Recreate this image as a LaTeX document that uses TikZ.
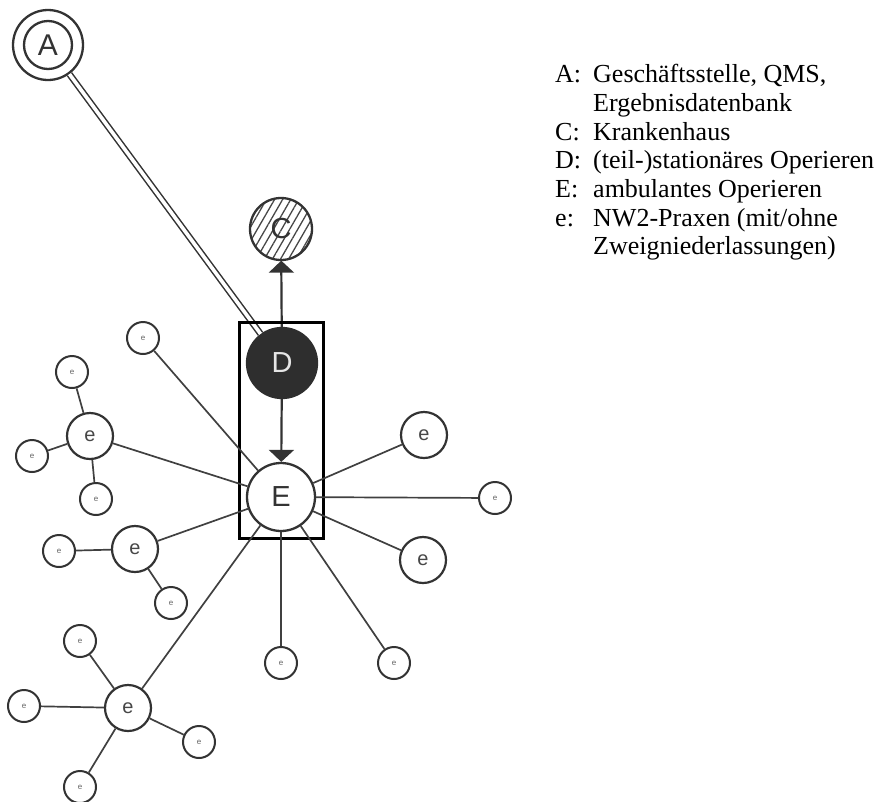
\documentclass[tikz,border=0pt]{standalone}
\usepackage{fontspec}
\setmainfont{Liberation Serif}
\newfontfamily\diagfont{Liberation Sans}
\usetikzlibrary{arrows.meta,patterns.meta}

\begin{document}
\begin{tikzpicture}[x=1pt,y=-1pt,
  link/.style={draw=black!75, line width=1.7pt},
  ring/.style={circle, draw=black!80, inner sep=0pt},
  bige/.style={ring, line width=2.2pt, minimum size=46pt,
    font=\diagfont\fontsize{20}{20}\selectfont, text=black!72},
  smalle/.style={ring, line width=2pt, minimum size=32pt,
    font=\diagfont\fontsize{8}{8}\selectfont, text=black!62},
  capnode/.style={ring, line width=2.3pt,
    font=\diagfont\fontsize{29}{29}\selectfont, text=black!80},
  flow/.style={draw=black!80, line width=2.2pt,
    -{Triangle[width=25pt,length=12pt]}},
  legend/.style={anchor=base west, inner sep=0pt,
    font=\fontsize{26}{28}\selectfont},
]
\useasboundingbox (0,0) rectangle (883,801);

% main nodes
\node[capnode, minimum size=70pt] (A) at (48,45) {};
\node[ring, line width=2.3pt, minimum size=48pt,
  font=\diagfont\fontsize{30}{30}\selectfont, text=black!80] (Ain) at (A) {A};
\node[capnode, minimum size=62pt,
  pattern={Lines[angle=60,distance=7pt,line width=1.3pt]},
  pattern color=black!72] (C) at (281,229) {C};
\node[capnode, minimum size=70pt, fill=black!82, draw=black!82, text=black!10] (D) at (282,363) {D};
\node[capnode, minimum size=68pt, fill=white] (E) at (281,497) {E};

% connection A -- D (double line)
\draw[draw=black!80, line width=1.5pt, double=white, double distance=3.6pt] (A) -- (D);

% flows out of D
\draw[flow] (D) -- (C);
\draw[flow] (D) -- (E);

% frame around D and E
\node[draw=black, line width=3pt, inner sep=0pt, minimum width=84pt, minimum height=216pt] (frame) at (281,430) {};

% single satellites of E
\node[smalle] (e1) at (143,338) {e};
\node[bige]   (e2) at (424,435) {e};
\node[smalle] (e3) at (495,498) {e};
\node[bige]   (e4) at (423,560) {e};
\node[smalle] (e5) at (281,663) {e};
\node[smalle] (e6) at (394,663) {e};

% cluster left, upper
\node[bige]   (g1) at (90,436) {e};
\node[smalle] (g1a) at (72,372) {e};
\node[smalle] (g1b) at (32,456) {e};
\node[smalle] (g1c) at (96,499) {e};

% cluster left, middle
\node[bige]   (g2) at (135,549) {e};
\node[smalle] (g2a) at (59,551) {e};
\node[smalle] (g2b) at (171,603) {e};

% cluster left, lower
\node[bige]   (g3) at (128,708) {e};
\node[smalle] (g3a) at (80,641) {e};
\node[smalle] (g3b) at (24,706) {e};
\node[smalle] (g3c) at (199,742) {e};
\node[smalle] (g3d) at (80,787) {e};

% links
\foreach \t in {e1,e2,e3,e4,e5,e6,g1,g2,g3}
  \draw[link] (E) -- (\t);
\foreach \t in {g1a,g1b,g1c}
  \draw[link] (g1) -- (\t);
\foreach \t in {g2a,g2b}
  \draw[link] (g2) -- (\t);
\foreach \t in {g3a,g3b,g3c,g3d}
  \draw[link] (g3) -- (\t);

% legend
\node[legend] (kA) at (555,82) {A:};
\node[legend] (tA) at (593,82) {Geschäftsstelle, QMS,};
\node[legend] (tA2) at (593,111) {Ergebnisdatenbank};
\node[legend] (kC) at (555,140) {C:};
\node[legend] (tC) at (593,140) {Krankenhaus};
\node[legend] (kD) at (555,168) {D:};
\node[legend] (tD) at (593,168) {(teil-)stationäres Operieren};
\node[legend] (kE) at (555,197) {E:};
\node[legend] (tE) at (593,197) {ambulantes Operieren};
\node[legend] (ke) at (555,226) {e:};
\node[legend] (te) at (593,226) {NW2-Praxen (mit/ohne};
\node[legend] (te2) at (593,254) {Zweigniederlassungen)};
\end{tikzpicture}
\end{document}
